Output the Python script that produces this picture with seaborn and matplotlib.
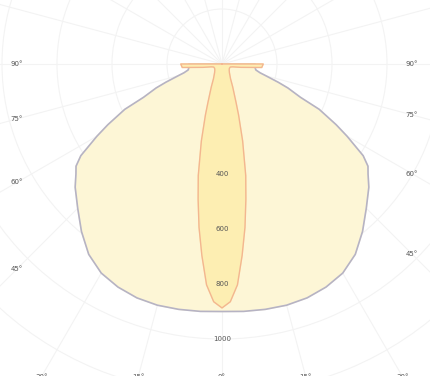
import numpy as np
import pandas as pd
import matplotlib
matplotlib.use("Agg")
import matplotlib.pyplot as plt
import seaborn as sns

# Luminous intensity (cd) per gamma angle (deg), two C-planes
wide_gamma = [0, 5, 10, 15, 20, 25, 30, 35, 40, 45, 50, 53, 55, 57, 60, 62, 65, 67, 70, 72, 75, 77, 80, 85, 90]
wide_cd = [900, 903, 906, 908, 905, 895, 878, 845, 795, 742, 697, 665, 648, 612, 525, 470, 390, 310, 255, 215, 165, 142, 125, 120, 120]

narrow_gamma = [0, 2, 4, 6, 8, 10, 12, 15, 18, 20, 25, 30, 40, 50, 60, 70, 75, 80, 85, 90]
narrow_cd = [887, 865, 805, 700, 600, 500, 415, 290, 195, 150, 92, 62, 42, 34, 31, 32, 40, 70, 145, 150]

ring_values = [400, 600, 800, 1000]
ring_labels = ["400", "600", "800", "1000"]
side_angles = [90, 75, 60, 45]
bottom_angles = [0, 15, 30]

R_MAX = 1600


def mirrored(gamma, cd):
    g = np.asarray(gamma, float)
    v = np.asarray(cd, float)
    theta = np.concatenate([[0.0], -g[::-1], g[1:], [0.0]])
    r = np.concatenate([[0.0], v[::-1], v[1:], [0.0]])
    return pd.DataFrame({"theta": np.deg2rad(theta), "cd": r})


sns.set_theme(style="white")
plt.rcParams["font.family"] = ["DejaVu Sans"]

fig = plt.figure(figsize=(4.3, 3.76), dpi=100)
cx, cy, rad = 222, 376 - 64, 440
ax = fig.add_axes([(cx - rad) / 430, (cy - rad) / 376, 2 * rad / 430, 2 * rad / 376],
                  projection="polar")
ax.set_theta_zero_location("S")
ax.set_rlim(0, R_MAX)
ax.set_rticks(np.arange(200, R_MAX + 1, 200))
ax.set_yticklabels([])
ax.set_xticks(np.deg2rad(np.arange(0, 360, 15)))
ax.set_xticklabels([])
ax.grid(True, color="#f3f3f3", linewidth=0.8)
ax.spines["polar"].set_visible(False)
ax.set_facecolor("white")

wide = mirrored(wide_gamma, wide_cd)
narrow = mirrored(narrow_gamma, narrow_cd)

ax.fill(wide["theta"], wide["cd"], color="#fdf6d6", zorder=2)
sns.lineplot(data=wide, x="theta", y="cd", sort=False, estimator=None,
             color="#b6b3c4", linewidth=1.2, ax=ax, zorder=3)
ax.fill(narrow["theta"], narrow["cd"], color="#fdeeb2", zorder=4)
sns.lineplot(data=narrow, x="theta", y="cd", sort=False, estimator=None,
             color="#f3b690", linewidth=1.0, ax=ax, zorder=5)
ax.set_xlabel("")
ax.set_ylabel("")

txt = dict(fontsize=5, color="#555555", ha="center", va="center", clip_on=False, zorder=6)
for v, lab in zip(ring_values, ring_labels):
    ax.text(0, v, lab, **txt)

px_per_cd = 0.275
for a in side_angles:
    s = np.sin(np.deg2rad(a))
    ax.text(np.deg2rad(a), 190 / px_per_cd / s, f"{a}°", **txt)
    ax.text(np.deg2rad(-a), 205 / px_per_cd / s, f"{a}°", **txt)

for a in bottom_angles:
    r = 313 / px_per_cd / np.cos(np.deg2rad(a))
    ax.text(np.deg2rad(a), r, f"{a}°", **txt)
    if a:
        ax.text(np.deg2rad(-a), r, f"{a}°", **txt)

fig.savefig("out.png", dpi=100)
